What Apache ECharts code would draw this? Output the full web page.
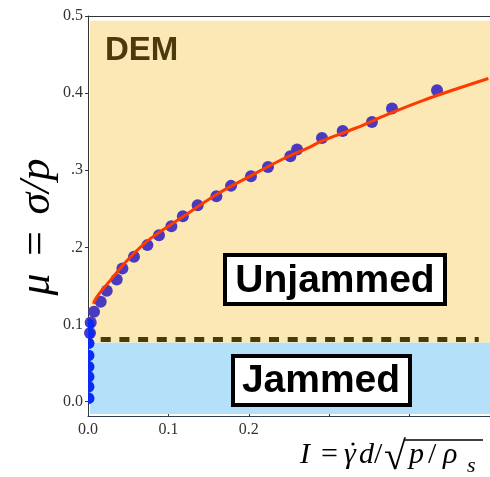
<!DOCTYPE html>
<html><head><meta charset="utf-8">
<script src="https://cdn.jsdelivr.net/npm/echarts@6/dist/echarts.min.js"></script>
<style>html,body{margin:0;padding:0;background:#fff}#c{width:490px;height:477px}</style>
</head><body><div id="c"></div>
<script>
// Unjammed DEM points (I, mu)
const unjammedI  = [0.0025, 0.0034, 0.0075, 0.0158, 0.0233, 0.0357, 0.0428, 0.0572, 0.0739, 0.0883, 0.1037, 0.118, 0.1364, 0.1597, 0.1779, 0.2027, 0.2239, 0.2517, 0.26, 0.291, 0.3168, 0.3532, 0.3781, 0.4341];
const unjammedMu = [0.089, 0.1026, 0.1166, 0.1295, 0.1438, 0.1585, 0.1728, 0.1878, 0.2030, 0.2159, 0.2276, 0.2405, 0.2548, 0.2665, 0.2798, 0.2924, 0.3044, 0.3183, 0.3269, 0.342, 0.351, 0.3627, 0.380, 0.4038];
// Jammed points (I = 0)
const jammedI  = [0, 0, 0, 0, 0, 0, 0, 0];
const jammedMu = [0.0044, 0.0195, 0.0324, 0.0454, 0.060, 0.0757, 0.088, 0.100];
// Fitted curve
const fitI  = [0.0067, 0.0105, 0.0158, 0.0323, 0.053, 0.078, 0.117, 0.1585, 0.2, 0.2413, 0.2745, 0.291, 0.3326, 0.374, 0.4154, 0.457, 0.498];
const fitMu = [0.127, 0.135, 0.1425, 0.163, 0.188, 0.2117, 0.239, 0.2677, 0.2915, 0.314, 0.3295, 0.338, 0.3545, 0.373, 0.390, 0.405, 0.419];
// Regions / reference line
const jamBoundary = 0.0763;
const jamLine = 0.081;
const regionTop = 0.494;
const regionBottom = -0.016;
// Ticks
const yTickValues = [0, 0.1, 0.2, 0.3, 0.4, 0.5];
const yTickLabels = ['0.0', '0.1', '.2', '.3', '0.4', '0.5'];
const xTickValues = [0, 0.1, 0.2, 0.3, 0.4];
const xLabelValues = [0, 0.1, 0.2];
const xTickLabels = ['0.0', '0.1', '0.2'];

function lab(vals, labels) {
  return function (v) {
    for (let i = 0; i < vals.length; i++) if (Math.abs(vals[i] - v) < 1e-9) return labels[i];
    return '';
  };
}
const zip = (a, b) => a.map((v, i) => [v, b[i]]);

const chart = echarts.init(document.getElementById('c'), null, {renderer: 'canvas'});
const serif = '"Liberation Serif", "Times New Roman", serif';
const sans = '"Liberation Sans", Arial, sans-serif';
const it30 = 'italic 30px ' + serif;
function t(x, y, text, font, extra) {
  return Object.assign({type: 'text', x: x, y: y, z: 10, style: {text: text, font: font, fill: '#000', align: 'left', verticalAlign: 'middle'}}, extra || {});
}
chart.setOption({
  animation: false,
  backgroundColor: '#fff',
  grid: {left: 88, top: 16, width: 402, height: 400},
  xAxis: [{
    type: 'value', min: 0, max: 0.5, position: 'bottom',
    axisLine: {show: true, onZero: false, lineStyle: {color: '#2f3f50', width: 1}},
    axisTick: {show: true, customValues: xTickValues, inside: true, length: 4, lineStyle: {color: '#2f3f50'}},
    axisLabel: {customValues: xLabelValues, formatter: lab(xLabelValues, xTickLabels), fontFamily: serif, fontSize: 16, color: '#333', margin: 6},
    splitLine: {show: false}
  }, {
    type: 'value', min: 0, max: 0.5, position: 'top',
    axisLine: {show: true, onZero: false, lineStyle: {color: '#333', width: 1}},
    axisTick: {show: false}, axisLabel: {show: false}, splitLine: {show: false}
  }],
  yAxis: {
    type: 'value', min: -0.0185, max: 0.5,
    axisLine: {show: true, onZero: false, lineStyle: {color: '#333', width: 1}},
    axisTick: {show: true, customValues: yTickValues, length: 3, lineStyle: {color: '#333'}},
    axisLabel: {customValues: yTickValues, formatter: lab(yTickValues, yTickLabels), fontFamily: serif, fontSize: 16, color: '#333', margin: 5},
    splitLine: {show: false}
  },
  series: [
    {
      type: 'line', data: [], z: 1, silent: true,
      markArea: {
        silent: true,
        data: [
          [{xAxis: 0.0025, yAxis: jamBoundary, itemStyle: {color: '#fbe8b5'}}, {xAxis: 0.5, yAxis: regionTop}],
          [{xAxis: 0.0025, yAxis: regionBottom, itemStyle: {color: '#b4e1f9'}}, {xAxis: 0.5, yAxis: jamBoundary}]
        ]
      },
      markLine: {
        silent: true, symbol: 'none', label: {show: false},
        lineStyle: {type: [10, 8.7], dashOffset: 6, width: 5, color: '#4a3a0c'},
        data: [[{coord: [0, jamLine]}, {coord: [0.486, jamLine]}]]
      }
    },
    {
      type: 'scatter', z: 3, symbolSize: 12,
      itemStyle: {color: '#4a3abf', opacity: 1},
      data: zip(unjammedI, unjammedMu)
    },
    {
      type: 'line', z: 4, smooth: 0.4, showSymbol: false, symbol: 'none',
      lineStyle: {color: '#ff3a00', width: 3},
      data: zip(fitI, fitMu)
    },
    {
      type: 'scatter', z: 5, clip: false,
      symbol: 'path://M0,0 A10,10 0 0 1 0,20 Z',
      symbolSize: [6.5, 12], symbolOffset: [3.25, 0],
      itemStyle: {color: '#0a2af5', opacity: 1},
      data: zip(jammedI, jammedMu)
    }
  ],
  graphic: [
    {type: 'text', x: 105, y: 51, z: 10, style: {text: 'DEM', font: 'bold 33px ' + sans, fill: '#4a3a0c', align: 'left', verticalAlign: 'middle'}},
    {type: 'rect', z: 10, shape: {x: 225, y: 255, width: 220, height: 49}, style: {fill: '#fff', stroke: '#000', lineWidth: 4}},
    {type: 'text', x: 335, y: 281, z: 11, style: {text: 'Unjammed', font: 'bold 39px ' + sans, fill: '#000', align: 'center', verticalAlign: 'middle'}},
    {type: 'rect', z: 10, shape: {x: 233, y: 356, width: 177, height: 49}, style: {fill: '#fff', stroke: '#000', lineWidth: 4}},
    {type: 'text', x: 321, y: 381, z: 11, style: {text: 'Jammed', font: 'bold 39px ' + sans, fill: '#000', align: 'center', verticalAlign: 'middle'}},
    {type: 'text', x: 37, y: 227, rotation: Math.PI / 2, z: 10, style: {text: 'μ\u2004=\u2004σ/p', font: 'italic 44px ' + serif, fill: '#000', align: 'center', verticalAlign: 'middle'}},
    t(300, 455, 'I', it30),
    t(321, 455, '=', '30px ' + serif),
    t(344, 455, 'γ', it30),
    {type: 'circle', z: 10, shape: {cx: 353, cy: 444, r: 1.6}, style: {fill: '#000'}},
    t(359, 455, 'd', it30),
    t(374, 455, '/', '30px ' + serif),
    t(384, 458, '√', '40px ' + serif),
    {type: 'line', z: 10, shape: {x1: 405, y1: 440, x2: 483, y2: 440}, style: {stroke: '#000', lineWidth: 1.5}},
    t(409, 455, 'p', it30),
    t(428, 455, '/', '30px ' + serif),
    t(443, 455, 'ρ', it30),
    t(467, 466, 's', 'italic 22px ' + serif)
  ]
});
</script>
</body></html>
